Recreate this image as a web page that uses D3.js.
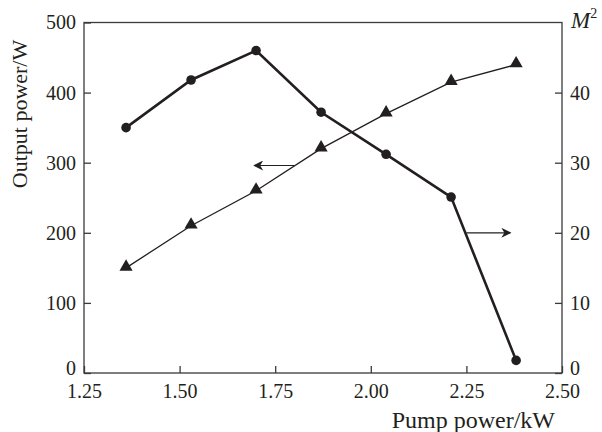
<!DOCTYPE html>
<html><head><meta charset="utf-8">
<script src="https://cdn.jsdelivr.net/npm/d3@7"></script>
<style>body{margin:0;background:#fff}svg{display:block}text{font-family:"Liberation Serif","Times New Roman",serif}</style>
</head><body><svg id="c" width="602" height="432"></svg>
<script>
const pumpPower = [1.36, 1.53, 1.70, 1.87, 2.04, 2.21, 2.38];
const outputPower = [150, 210, 260, 320, 370, 415, 440];
const m2 = [35.0, 41.8, 46.0, 37.2, 31.2, 25.1, 1.8];
const xTicks = [1.25, 1.50, 1.75, 2.00, 2.25, 2.50];
const yLeftTicks = [0, 100, 200, 300, 400, 500];
const yRightTicks = [0, 10, 20, 30, 40];
// arrow annotations: [fromX, toX, leftAxisY]
const arrowLeft = [1.80, 1.695, 296];
const arrowRight = [2.25, 2.365, 200];

const svg = d3.select("#c");
const L = 84, R = 562, T = 22.5, B = 373;
const x = d3.scaleLinear().domain([1.25, 2.5]).range([L, R]);
const yL = d3.scaleLinear().domain([0, 500]).range([B, T]);
const yR = d3.scaleLinear().domain([0, 50]).range([B, T]);
const font = '"Liberation Serif", "Times New Roman", serif';
const ink = "#231f20";

const defs = svg.append("defs");
defs.append("marker").attr("id","ah").attr("viewBox","0 0 10 10").attr("refX",9).attr("refY",5)
  .attr("markerWidth",12).attr("markerHeight",10).attr("markerUnits","userSpaceOnUse").attr("orient","auto")
  .append("path").attr("d","M0,0 L10,5 L0,10 L3,5 Z").attr("fill",ink);

// frame
svg.append("rect").attr("x",L).attr("y",T).attr("width",R-L).attr("height",B-T)
  .attr("fill","none").attr("stroke","#3a3a3a").attr("stroke-width",1.3);

function styleAxis(g){
  g.attr("font-family",null).attr("font-size",null);
  g.select(".domain").remove();
  g.selectAll("line").attr("stroke","#3a3a3a").attr("stroke-width",1.3);
  g.selectAll("text").style("font-family",font).style("font-size","20px").attr("fill",ink);
}
const gx = svg.append("g").attr("transform",`translate(0,${B})`)
  .call(d3.axisBottom(x).tickValues(xTicks).tickFormat(d3.format(".2f")).tickSizeInner(-7).tickSizeOuter(0));
styleAxis(gx);
gx.selectAll("text").attr("y",25).attr("dy",null);
const gl = svg.append("g").attr("transform",`translate(${L},0)`)
  .call(d3.axisLeft(yL).tickValues(yLeftTicks).tickSizeInner(-7).tickSizeOuter(0).tickPadding(8));
styleAxis(gl);
const gr = svg.append("g").attr("transform",`translate(${R},0)`)
  .call(d3.axisRight(yR).tickValues(yRightTicks).tickSizeInner(-7).tickSizeOuter(0).tickPadding(8));
styleAxis(gr);
[gl, gr].forEach(g => g.selectAll(".tick text").filter(d => d === 0).attr("y", -5));

// lines
const ptsOut = pumpPower.map((p,i)=>[x(p), yL(outputPower[i])]);
const ptsM = pumpPower.map((p,i)=>[x(p), yR(m2[i])]);
svg.append("path").attr("d", d3.line()(ptsOut)).attr("fill","none").attr("stroke",ink).attr("stroke-width",1.3);
svg.append("path").attr("d", d3.line()(ptsM)).attr("fill","none").attr("stroke",ink).attr("stroke-width",2.6);

svg.selectAll(".tri").data(ptsOut).join("path")
  .attr("d", d3.symbol().type(d3.symbolTriangle).size(75)())
  .attr("transform", d=>`translate(${d[0]},${d[1]-1})`).attr("fill",ink);
svg.selectAll(".dot").data(ptsM).join("circle")
  .attr("cx",d=>d[0]).attr("cy",d=>d[1]).attr("r",4.8).attr("fill",ink);

// arrows
[arrowLeft, arrowRight].forEach(a=>{
  svg.append("line").attr("x1",x(a[0])).attr("x2",x(a[1])).attr("y1",yL(a[2])).attr("y2",yL(a[2]))
    .attr("stroke",ink).attr("stroke-width",1.2).attr("marker-end","url(#ah)");
});

// labels
svg.append("text").attr("transform","translate(27,114) rotate(-90)").attr("text-anchor","middle")
  .style("font-size","22px").attr("fill",ink).text("Output power/W");
svg.append("text").attr("x",555).attr("y",428).attr("text-anchor","end")
  .style("font-size","24px").attr("fill",ink).text("Pump power/kW");
const mt = svg.append("text").attr("x",571).attr("y",28).style("font-size","23px").attr("fill",ink);
mt.append("tspan").attr("font-style","italic").text("M");
mt.append("tspan").style("font-size","14px").attr("dy","-10").text("2");
</script></body></html>
